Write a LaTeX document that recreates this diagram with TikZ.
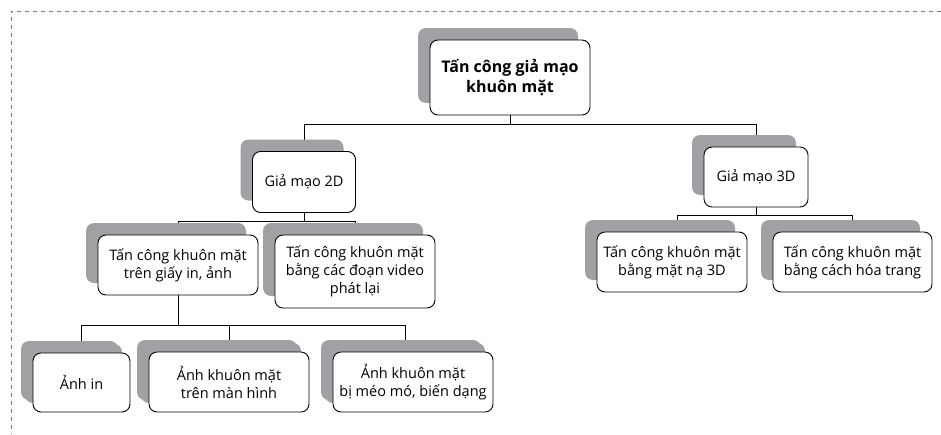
\documentclass[tikz,border=0pt]{standalone}
\usepackage{fontspec}
\setmainfont{Open Sans}
\usepackage{tikz}
\usetikzlibrary{shadows, backgrounds}
\definecolor{shadegray}{RGB}{160,161,164}
\definecolor{framegray}{RGB}{120,120,120}

\begin{document}
\begin{tikzpicture}[x=1pt, y=-1pt, every node/.style={font=\fontsize{14.5}{18}\selectfont},
    card/.style={draw, line width=0.9pt, fill=white, rounded corners=8pt, align=center, inner sep=2pt,
      minimum width=160pt, minimum height=60pt,
      general shadow={fill=shadegray, shadow xshift=-12pt, shadow yshift=12pt}},
    leafcard/.style={card, general shadow={fill=shadegray, shadow xshift=-8pt, shadow yshift=9pt}},
    link/.style={line width=0.8pt}]
      \useasboundingbox (0,0) rectangle (941,434);
      % frame
      \draw[framegray, line width=0.9pt, dash pattern=on 4pt off 4pt] (941,11) -- (11,11) -- (11,434);
      % top level
      \node[card, minimum height=75pt, font=\fontsize{16}{19.5}\selectfont\bfseries] (root) at (510,77.5) {Tấn công giả mạo\\khuôn mặt};
      \node[card, minimum width=103pt, minimum height=61pt] (g2d) at (304,182) {Giả mạo 2D};
      \node[card, minimum width=104pt] (g3d) at (756,177) {Giả mạo 3D};
      % 2D branch
      \node[card] (paper) at (178,265) {Tấn công khuôn mặt\\trên giấy in, ảnh};
      \node[card, minimum height=73pt] (video) at (355,271.5) {Tấn công khuôn mặt\\bằng các đoạn video\\phát lại};
      \node[leafcard, minimum width=97pt, minimum height=59pt] (print) at (81.5,382.5) {Ảnh in};
      \node[leafcard] (screen) at (229,382) {Ảnh khuôn mặt\\trên màn hình};
      \node[leafcard] (warp) at (413,382) {Ảnh khuôn mặt\\bị méo mó, biến dạng};
      % 3D branch
      \node[card, minimum width=150pt] (mask) at (672,262) {Tấn công khuôn mặt\\bằng mặt nạ 3D};
      \node[card, minimum width=159pt] (makeup) at (852.5,262) {Tấn công khuôn mặt\\bằng cách hóa trang};
      % connectors
      \begin{scope}[on background layer]
        \draw[link] (root.south) -- ++(0,9) -| (g2d.north);
        \draw[link] (root.south) -- ++(0,9) -| (g3d.north);
        \draw[link] (g2d.south) -- ++(0,8) -| (paper.north);
        \draw[link] (g2d.south) -- ++(0,8) -| (video.north);
        \draw[link] (paper.south) -- ++(0,30) -| (print.north);
        \draw[link] (paper.south) -- ++(0,30) -| (screen.north);
        \draw[link] (paper.south) -- ++(0,30) -| ([xshift=-8pt]warp.north);
        \draw[link] (g3d.south) -- ++(0,8) -| ([xshift=5pt]mask.north);
        \draw[link] (g3d.south) -- ++(0,8) -| (makeup.north);
      \end{scope}
\end{tikzpicture}
\end{document}
